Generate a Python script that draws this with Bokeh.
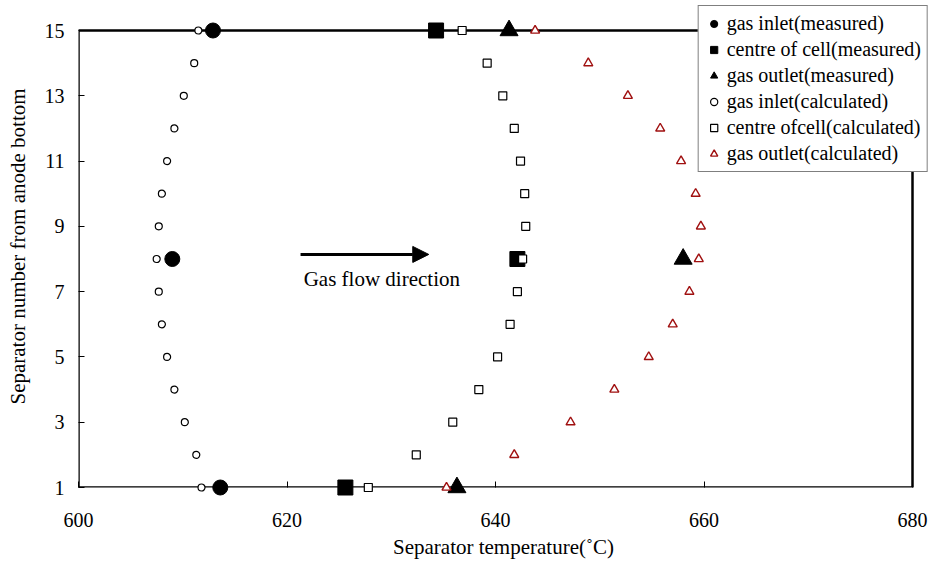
from bokeh.plotting import figure
from bokeh.models import (Range1d, Legend, LegendItem, Arrow, NormalHead, Label,
                          FixedTicker, ColumnDataSource, BoxAnnotation)
from bokeh.embed import file_html
from bokeh.resources import INLINE

# ---- data ----
sep_measured = [1, 8, 15]
inlet_measured = [613.6, 609.0, 612.9]
centre_measured = [625.6, 642.1, 634.3]
outlet_measured = [636.3, 658.0, 641.3]

sep_calc = [1, 2, 3, 4, 5, 6, 7, 8, 9, 10, 11, 12, 13, 14, 15]
inlet_calc = [611.8, 611.3, 610.2, 609.2, 608.5, 608.0, 607.7, 607.5,
              607.7, 608.0, 608.5, 609.2, 610.1, 611.1, 611.5]
centre_calc = [627.8, 632.4, 635.9, 638.4, 640.2, 641.4, 642.1, 642.6,
               642.9, 642.8, 642.4, 641.8, 640.7, 639.2, 636.8]
outlet_calc = [635.3, 641.8, 647.2, 651.4, 654.7, 657.0, 658.6, 659.5,
               659.7, 659.2, 657.8, 655.8, 652.7, 648.9, 643.8]

x_ticks = [600, 620, 640, 660, 680]
y_ticks = [1, 3, 5, 7, 9, 11, 13, 15]
x_min, x_max = 600, 680
y_min, y_max = 1, 15

FONT = "Liberation Serif"
RED = "#a01010"

# frame extends a little beyond the drawn box (top/right) so the legend can overhang it
p = figure(width=930, height=561,
           x_range=Range1d(x_min, x_max + 16 / 10.425),
           y_range=Range1d(y_min, y_max + 25 / 32.64),
           output_backend="svg", toolbar_location=None,
           min_border_left=78, min_border_right=2, min_border_top=5, min_border_bottom=74)
p.background_fill_color = "white"
p.border_fill_color = "white"
p.outline_line_color = None
p.grid.visible = False

# the plot box
p.add_layout(BoxAnnotation(left=x_min, right=x_max, bottom=y_min, top=y_max,
                           fill_color=None, fill_alpha=0,
                           line_color="black", line_alpha=1.0, line_width=2.5,
                           level="underlay"))

for ax in (p.xaxis[0], p.yaxis[0]):
    ax.axis_line_color = None
    ax.major_tick_in = 6
    ax.major_tick_out = 0
    ax.major_tick_line_width = 1
    ax.minor_tick_line_color = None
    ax.major_label_text_font = FONT
    ax.major_label_text_font_size = "20px"
    ax.major_label_text_color = "black"
    ax.axis_label_text_font = FONT
    ax.axis_label_text_font_size = "21px"
    ax.axis_label_text_font_style = "normal"
    ax.axis_label_text_color = "black"

p.xaxis.ticker = FixedTicker(ticks=x_ticks)
p.yaxis.ticker = FixedTicker(ticks=y_ticks)
p.xaxis.axis_label = "Separator temperature(˚C)"
p.yaxis.axis_label = "Separator number from anode bottom"
p.xaxis.major_label_standoff = 25
p.xaxis.axis_label_standoff = 5
p.yaxis.major_label_standoff = 14
p.yaxis.axis_label_standoff = 12

src_m = ColumnDataSource(dict(y=sep_measured, inlet=inlet_measured,
                              centre=centre_measured, outlet=outlet_measured))
src_c = ColumnDataSource(dict(y=sep_calc, inlet=inlet_calc,
                              centre=centre_calc, outlet=outlet_calc))

r1 = p.scatter("inlet", "y", source=src_m, marker="circle", size=15,
               fill_color="black", line_color="black", level="overlay")
r2 = p.scatter("centre", "y", source=src_m, marker="square", size=15,
               fill_color="black", line_color="black", level="overlay")
r3 = p.scatter("outlet", "y", source=src_m, marker="triangle", size=18,
               fill_color="black", line_color="black", level="overlay")
r4 = p.scatter("inlet", "y", source=src_c, marker="circle", size=7,
               fill_color="white", line_color="black", line_width=1.2, level="overlay")
r5 = p.scatter("centre", "y", source=src_c, marker="square", size=8,
               fill_color="white", line_color="black", line_width=1.2, level="overlay")
r6 = p.scatter("outlet", "y", source=src_c, marker="triangle", size=9,
               fill_color="white", line_color=RED, line_width=1.4, level="overlay")

arrow = Arrow(end=NormalHead(size=16, fill_color="black", line_color="black"),
              x_start=621.3, y_start=8.14, x_end=633.6, y_end=8.14,
              line_width=3, line_color="black")
p.add_layout(arrow)
p.add_layout(Label(x=621.6, y=7.4, text="Gas flow direction", text_font=FONT,
                   text_font_size="21px", text_baseline="middle", text_color="black"))

legend = Legend(items=[
    LegendItem(label="gas inlet(measured)", renderers=[r1]),
    LegendItem(label="centre of cell(measured)", renderers=[r2]),
    LegendItem(label="gas outlet(measured)", renderers=[r3]),
    LegendItem(label="gas inlet(calculated)", renderers=[r4]),
    LegendItem(label="centre ofcell(calculated)", renderers=[r5]),
    LegendItem(label="gas outlet(calculated)", renderers=[r6]),
], location="top_right")
legend.label_text_font = FONT
legend.label_text_font_size = "20px"
legend.label_text_color = "black"
legend.label_height = 21
legend.glyph_height = 21
legend.glyph_width = 18
legend.label_standoff = 4
legend.spacing = 3
legend.padding = 6
legend.margin = 0
legend.border_line_color = "black"
legend.border_line_width = 1.5
legend.background_fill_color = "white"
legend.background_fill_alpha = 1
p.add_layout(legend, "center")

open("out.html", "w").write(file_html(p, INLINE))
